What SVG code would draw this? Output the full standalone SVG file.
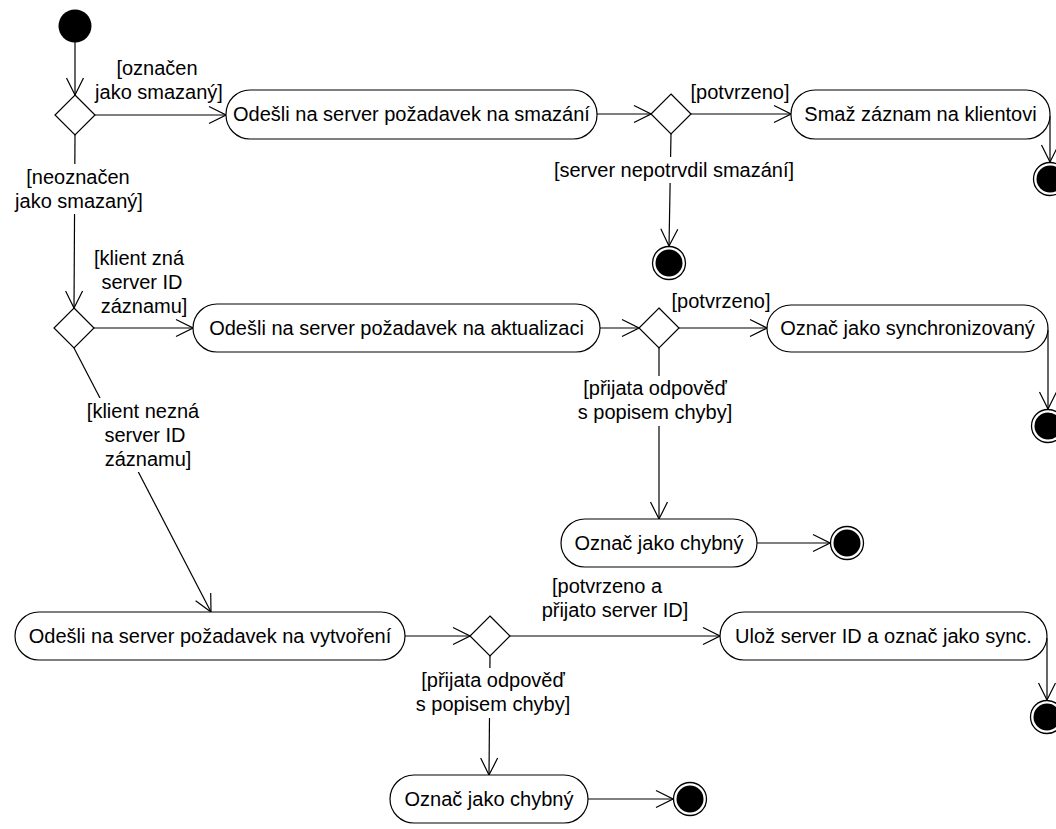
<svg xmlns="http://www.w3.org/2000/svg" width="1056" height="829" viewBox="0 0 1056 829">
<defs>
<style>
.act{fill:#fff;stroke:#000;stroke-width:1.2}
.dec{fill:#fff;stroke:#000;stroke-width:1.2}
.t{font-family:"Liberation Sans",Arial,sans-serif;font-size:20px;fill:#000;text-anchor:middle}
.e{fill:none;stroke:#000;stroke-width:1.2;marker-end:url(#arr)}
.bg{fill:#fff}
.eo{fill:#fff;stroke:#000;stroke-width:1.3}
</style>
<marker id="arr" markerUnits="userSpaceOnUse" markerWidth="20" markerHeight="20" viewBox="-19 -10 20 20" refX="0" refY="0" orient="auto">
<path d="M-17,-8.5 L0,0 L-17,8.5" fill="none" stroke="#000" stroke-width="1.2"/>
</marker>
</defs>
<rect width="1056" height="829" fill="#fff"/>

<g id="edges">
<line class="e" x1="75" y1="42" x2="75" y2="95"/>
<line class="e" x1="95" y1="115" x2="226" y2="115"/>
<line class="e" x1="597" y1="114" x2="651" y2="114"/>
<line class="e" x1="691" y1="114" x2="791" y2="114"/>
<line class="e" x1="1050" y1="116" x2="1050" y2="162"/>
<line class="e" x1="671" y1="134" x2="669" y2="246"/>
<line class="e" x1="75" y1="135" x2="74" y2="308"/>
<line class="e" x1="94" y1="328" x2="193" y2="328"/>
<line class="e" x1="600" y1="328" x2="639" y2="328"/>
<line class="e" x1="679" y1="328" x2="767" y2="328"/>
<line class="e" x1="1048" y1="330" x2="1048" y2="409"/>
<line class="e" x1="659" y1="348" x2="659" y2="519"/>
<line class="e" x1="757" y1="543" x2="830" y2="543"/>
<line class="e" x1="74" y1="348" x2="211" y2="612"/>
<line class="e" x1="405" y1="636" x2="470" y2="636"/>
<line class="e" x1="510" y1="636" x2="720" y2="636"/>
<line class="e" x1="1047" y1="638" x2="1047" y2="700"/>
<line class="e" x1="490" y1="656" x2="489" y2="775"/>
<line class="e" x1="588" y1="799" x2="673" y2="799"/>
</g>

<g id="edge-labels">
<text class="t" x="157" y="75">[označen</text>
<text class="t" x="159" y="99">jako smazaný]</text>
<text class="t" x="740" y="99">[potvrzeno]</text>
<rect class="bg" x="14" y="164" width="132" height="50"/>
<text class="t" x="78" y="184">[neoznačen</text>
<text class="t" x="79" y="208">jako smazaný]</text>
<rect class="bg" x="550" y="157" width="250" height="26"/>
<text class="t" x="674" y="177">[server nepotrvdil smazání]</text>
<text class="t" x="139" y="265">[klient zná</text>
<text class="t" x="142" y="289">server ID</text>
<text class="t" x="144" y="313">záznamu]</text>
<text class="t" x="721" y="308">[potvrzeno]</text>
<rect class="bg" x="574" y="376" width="162" height="50"/>
<text class="t" x="655" y="395">[přijata odpověď</text>
<text class="t" x="655" y="419">s popisem chyby]</text>
<rect class="bg" x="82" y="398" width="122" height="74"/>
<text class="t" x="143" y="418">[klient nezná</text>
<text class="t" x="145" y="442">server ID</text>
<text class="t" x="148" y="466">záznamu]</text>
<text class="t" x="607" y="593">[potvrzeno a</text>
<text class="t" x="615" y="617">přijato server ID]</text>
<rect class="bg" x="412" y="668" width="164" height="50"/>
<text class="t" x="493" y="687">[přijata odpověď</text>
<text class="t" x="493" y="711">s popisem chyby]</text>
</g>

<g id="start"><circle cx="75" cy="26" r="16.5" fill="#000"/></g>

<g id="d1"><polygon class="dec" points="75,95 95,115 75,135 55,115"/></g>
<g id="a1"><rect class="act" x="226" y="90" width="371" height="49" rx="24" ry="24"/><text class="t" x="411.5" y="121">Odešli na server požadavek na smazání</text></g>
<g id="d2"><polygon class="dec" points="671,94 691,114 671,134 651,114"/></g>
<g id="a2"><rect class="act" x="791" y="90" width="259" height="49" rx="24" ry="24"/><text class="t" x="920.5" y="121">Smaž záznam na klientovi</text></g>
<g id="end1"><circle class="eo" cx="1050" cy="179" r="16.5"/><circle cx="1050" cy="179" r="13.5" fill="#000"/></g>
<g id="end2"><circle class="eo" cx="669" cy="263" r="16.5"/><circle cx="669" cy="263" r="13.5" fill="#000"/></g>

<g id="d3"><polygon class="dec" points="74,308 94,328 74,348 54,328"/></g>
<g id="a3"><rect class="act" x="193" y="304" width="407" height="48" rx="24" ry="24"/><text class="t" x="396.5" y="335">Odešli na server požadavek na aktualizaci</text></g>
<g id="d4"><polygon class="dec" points="659,308 679,328 659,348 639,328"/></g>
<g id="a4"><rect class="act" x="767" y="305" width="281" height="47" rx="24" ry="23.5"/><text class="t" x="907.5" y="335">Označ jako synchronizovaný</text></g>
<g id="end3"><circle class="eo" cx="1048" cy="426" r="16.5"/><circle cx="1048" cy="426" r="13.5" fill="#000"/></g>
<g id="a7"><rect class="act" x="561" y="519" width="196" height="48" rx="24" ry="24"/><text class="t" x="659" y="550">Označ jako chybný</text></g>
<g id="end4"><circle class="eo" cx="847" cy="543" r="16.5"/><circle cx="847" cy="543" r="13.5" fill="#000"/></g>

<g id="a5"><rect class="act" x="15" y="612" width="390" height="48" rx="24" ry="24"/><text class="t" x="210" y="643">Odešli na server požadavek na vytvoření</text></g>
<g id="d5"><polygon class="dec" points="490,616 510,636 490,656 470,636"/></g>
<g id="a6"><rect class="act" x="720" y="612" width="327" height="48" rx="24" ry="24"/><text class="t" x="883.5" y="643">Ulož server ID a označ jako sync.</text></g>
<g id="end5"><circle class="eo" cx="1047" cy="717" r="16.5"/><circle cx="1047" cy="717" r="13.5" fill="#000"/></g>
<g id="a8"><rect class="act" x="390" y="775" width="198" height="48" rx="24" ry="24"/><text class="t" x="489" y="806">Označ jako chybný</text></g>
<g id="end6"><circle class="eo" cx="690" cy="799" r="16.5"/><circle cx="690" cy="799" r="13.5" fill="#000"/></g>
</svg>
